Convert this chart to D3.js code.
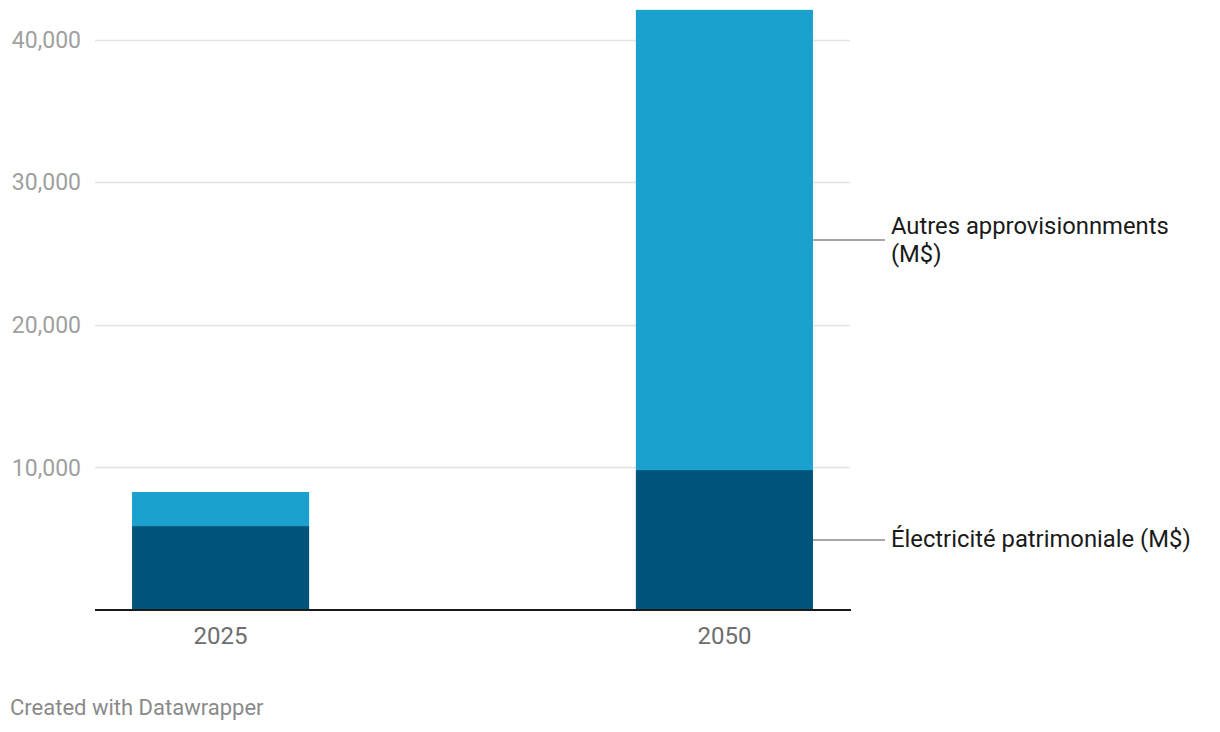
<!DOCTYPE html>
<html>
<head>
<meta charset="utf-8">
<script src="https://cdn.jsdelivr.net/npm/d3@7"></script>
<style>
  html, body { margin: 0; padding: 0; background: #fff; }
  svg { display: block; font-family: Roboto, "Noto Sans", sans-serif; }
</style>
</head>
<body>
<svg id="chart" width="1220" height="732"></svg>
<script>
const categories = ["2025", "2050"];
const seriesNames = ["Électricité patrimoniale (M$)", "Autres approvisionnments (M$)"];
const electricite = [5890, 9820];
const autres = [2390, 32290];
const yTicks = [10000, 20000, 30000, 40000];
const colors = ["#00537b", "#1aa1cd"];

const svg = d3.select("#chart");
const m = { left: 95, right: 850, top: 10, bottom: 610 };

const x = d3.scaleBand().domain(categories).range([m.left, m.right])
  .paddingInner(0.6485).paddingOuter(0.0735);
const y = d3.scaleLinear().domain([0, 42100]).range([m.bottom, m.top]);

// gridlines
svg.append("g").selectAll("line").data(yTicks).join("line")
  .attr("x1", m.left).attr("x2", m.right)
  .attr("y1", d => Math.round(y(d)) + 0.5).attr("y2", d => Math.round(y(d)) + 0.5)
  .attr("stroke", "#e3e3e3").attr("stroke-width", 1.5);

// y tick labels
svg.append("g").selectAll("text").data(yTicks).join("text")
  .attr("x", 81).attr("y", d => y(d))
  .attr("dy", "0.35em").attr("text-anchor", "end")
  .attr("font-size", 23).attr("fill", "#a0a0a0")
  .text(d => d3.format(",")(d));

// stacked data
const rows = categories.map((c, i) => ({ cat: c, e: electricite[i], a: autres[i] }));
const stack = d3.stack().keys(["e", "a"])(rows);

svg.append("g").selectAll("g").data(stack).join("g")
  .attr("fill", (d, i) => colors[i])
  .selectAll("rect").data(d => d).join("rect")
  .attr("x", d => x(d.data.cat))
  .attr("width", x.bandwidth())
  .attr("y", d => y(d[1]))
  .attr("height", d => y(d[0]) - y(d[1]));

// baseline
svg.append("line")
  .attr("x1", m.left).attr("x2", m.right + 1)
  .attr("y1", y(0)).attr("y2", y(0))
  .attr("stroke", "#1a1a1a").attr("stroke-width", 2);

// x labels
svg.append("g").selectAll("text").data(categories).join("text")
  .attr("x", d => x(d) + x.bandwidth() / 2).attr("y", 644)
  .attr("text-anchor", "middle")
  .attr("font-size", 24).attr("fill", "#6e6e6e")
  .text(d => d);

// direct labels for last category
const last = rows[rows.length - 1];
const lx = x(last.cat) + x.bandwidth();
const labelData = [
  { mid: y(last.e / 2), lines: ["Électricité patrimoniale (M$)"] },
  { mid: y(last.e + last.a / 2), lines: ["Autres approvisionnments", "(M$)"] }
];
const lg = svg.append("g");
labelData.forEach(d => {
  lg.append("line").attr("x1", lx).attr("x2", lx + 72)
    .attr("y1", d.mid).attr("y2", d.mid)
    .attr("stroke", "#888").attr("stroke-width", 1.5);
  const t = lg.append("text").attr("font-size", 23.8).attr("fill", "#1a1a1a");
  d.lines.forEach((ln, i) => {
    t.append("tspan").attr("x", lx + 78)
      .attr("y", d.mid + 7 - (d.lines.length - 1) * 13 + i * 28).text(ln);
  });
});

// footer
svg.append("text").attr("x", 10).attr("y", 715)
  .attr("font-size", 22).attr("fill", "#8a8a8a")
  .text("Created with Datawrapper");
</script>
</body>
</html>
